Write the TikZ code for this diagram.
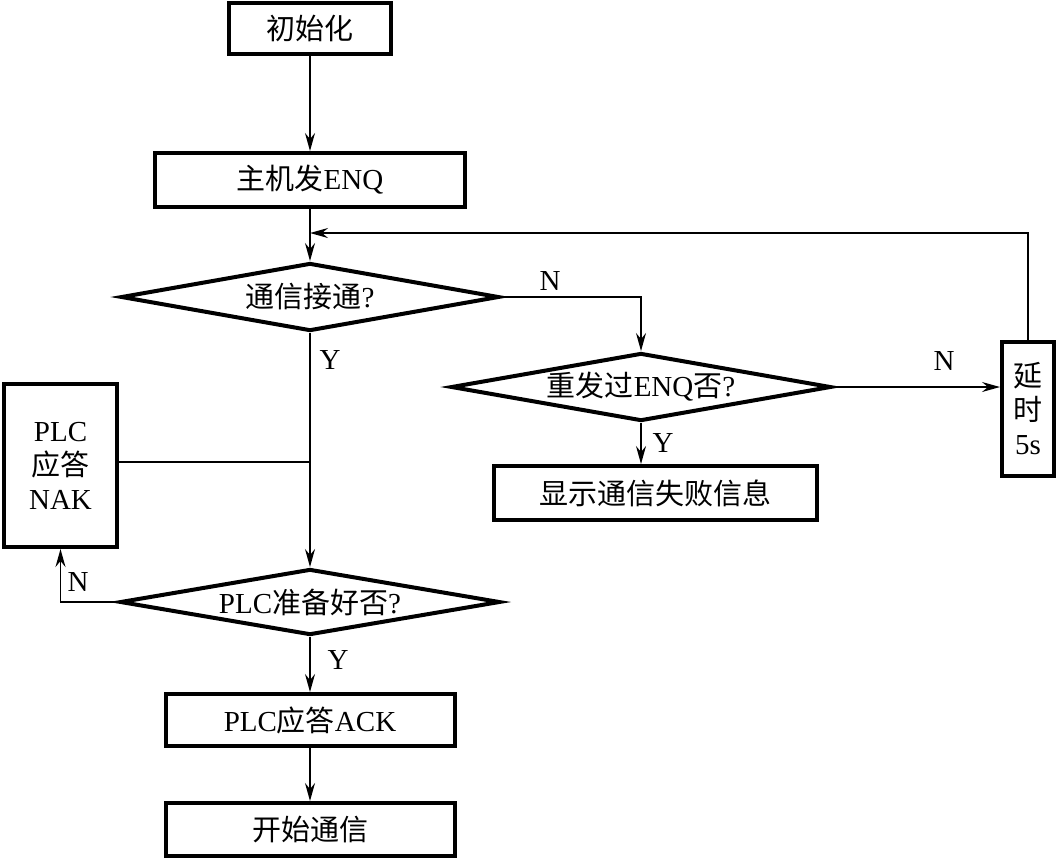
\documentclass[tikz,border=0pt]{standalone}
\usepackage{fontspec}
\setmainfont{Liberation Serif}
\newfontfamily\cjk{Noto Sans CJK SC}
\newcommand{\zh}[1]{{\cjk #1}}
\usetikzlibrary{positioning,shapes.geometric,arrows.meta}

\begin{document}
\begin{tikzpicture}[x=0.5pt,y=-0.5pt,
				box/.style={rectangle, draw=black, line width=2pt, inner sep=0pt, font=\fontsize{14.5}{17}\selectfont},
				decision/.style={diamond, draw=black, line width=2pt, inner sep=0pt, aspect=5.5, font=\fontsize{14.5}{17}\selectfont},
				tallbox/.style={box, align=center},
				flag/.style={rectangle, inner sep=0pt, font=\fontsize{14.5}{17}\selectfont}
			]
			\useasboundingbox (0,0) rectangle (1058,859);
			\node[box, minimum width=81pt, minimum height=25.5pt] (init) at (310,28) {\zh{初始化}};
			\node[box, minimum width=155pt, minimum height=27pt] (sendenq) at (310,180) {\zh{主机发}ENQ};
			\node[decision, minimum width=189pt, minimum height=34pt] (linked) at (310,297) {\zh{通信接通}?};
			\node[decision, minimum width=190pt, minimum height=34pt] (resent) at (641,387) {\zh{重发过}ENQ\zh{否}?};
			\node[box, minimum width=161.5pt, minimum height=27pt] (showfail) at (655.5,493) {\zh{显示通信失败信息}};
			\node[tallbox, minimum width=26pt, minimum height=67pt] (delay) at (1028,408.5) {\zh{延}\\\zh{时}\\5s};
			\node[tallbox, minimum width=56.5pt, minimum height=81.5pt] (plcnak) at (60.5,465.5) {PLC\\\zh{应答}\\NAK};
			\node[decision, minimum width=190pt, minimum height=33pt] (plcready) at (310,602) {PLC\zh{准备好否}?};
			\node[box, minimum width=144.5pt, minimum height=26pt] (plcack) at (310,720) {PLC\zh{应答}ACK};
			\node[box, minimum width=144.5pt, minimum height=26.5pt] (startcomm) at (310,829.5) {\zh{开始通信}};
			% Y / N marks
			\node[flag] (nlinked) at (550,281) {N};
			\node[flag] (ylinked) at (330,360) {Y};
			\node[flag] (yresent) at (663,443) {Y};
			\node[flag] (nresent) at (944,361) {N};
			\node[flag] (nready) at (78,582) {N};
			\node[flag] (yready) at (338,660) {Y};
			\coordinate (loopin) at (310,233);
			\coordinate (nakjoin) at (310,462);
			\begin{scope}[line width=0.8pt, -{Stealth[length=9pt,width=5pt,inset=3pt]}]
			\draw (init) -- (sendenq);
			\draw (sendenq) -- (linked);
			\draw (delay.north) |- (loopin);
			\draw (linked.east) -| (resent.north);
			\draw (linked.south) -- (plcready.north);
			\draw[-] (plcnak.east |- nakjoin) -- (nakjoin);
			\draw (plcready.west) -| (plcnak.south);
			\draw (plcready.south) -- (plcack.north);
			\draw (plcack.south) -- (startcomm.north);
			\draw (resent.south) -- (resent.south |- showfail.north);
			\draw (resent.east) -- (resent.east -| delay.west);
			\end{scope}
			\end{tikzpicture}
\end{document}
